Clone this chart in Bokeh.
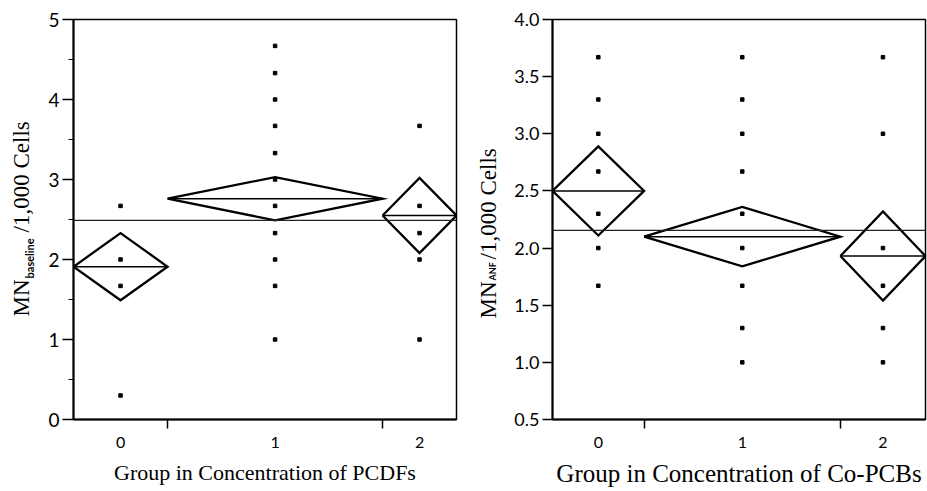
import numpy as np
from bokeh.plotting import figure
from bokeh.layouts import row
from bokeh.models import Range1d, FixedTicker, Span
from bokeh.core.properties import value
from bokeh.embed import file_html
from bokeh.resources import INLINE

# ---------------- data ----------------
groups = ["0", "1", "2"]

# Left panel: PCDFs
pcdf_n = [14, 32, 11]
pcdf_mean = [1.91, 2.76, 2.55]
pcdf_ci = [0.42, 0.27, 0.47]
pcdf_grand = 2.49
pcdf_pts_0 = [2.67, 2.0, 1.67, 0.3]
pcdf_pts_1 = [4.67, 4.33, 4.0, 3.67, 3.33, 3.0, 2.67, 2.33, 2.0, 1.67, 1.0]
pcdf_pts_2 = [3.67, 2.67, 2.33, 2.0, 1.0]
pcdf_yticks = [0, 1, 2, 3, 4, 5]
pcdf_ytick_labels = ["0", "1", "2", "3", "4", "5"]
pcdf_yminor = [0.5, 1.5, 2.5, 3.5, 4.5]

# Right panel: Co-PCBs
pcb_n = [14, 30, 13]
pcb_mean = [2.5, 2.1, 1.93]
pcb_ci = [0.39, 0.26, 0.39]
pcb_grand = 2.155
pcb_pts_0 = [3.67, 3.3, 3.0, 2.67, 2.3, 2.0, 1.67]
pcb_pts_1 = [3.67, 3.3, 3.0, 2.67, 2.3, 2.0, 1.67, 1.3, 1.0]
pcb_pts_2 = [3.67, 3.0, 2.0, 1.67, 1.3, 1.0]
pcb_yticks = [0.5, 1.0, 1.5, 2.0, 2.5, 3.0, 3.5, 4.0]
pcb_ytick_labels = ["0.5", "1.0", "1.5", "2.0", "2.5", "3.0", "3.5", "4.0"]

SERIF = "Liberation Serif"
SANS = "Lato"
H = 491
TOP = 19
BOTTOM = 72


def make_panel(n, means, ci, grand, pts, yr, yticks, ytick_labels, yminor,
               xlabel, width, mb_left, mb_right,
               ytick_size, xtick_size, xlabel_size, ytick_out):
    edges = np.concatenate([[0.0], np.cumsum(n)]).astype(float)
    centers = (edges[:-1] + edges[1:]) / 2.0

    p = figure(width=width, height=H, x_range=Range1d(0, edges[-1]),
               y_range=Range1d(*yr), output_backend="svg",
               toolbar_location=None, min_border_left=mb_left,
               min_border_right=mb_right, min_border_top=TOP,
               min_border_bottom=BOTTOM)
    p.grid.visible = False
    p.background_fill_color = "white"
    p.border_fill_color = "white"
    p.outline_line_color = "black"
    p.outline_line_width = 1.5
    p.outline_line_alpha = 1.0

    # grand mean line
    p.add_layout(Span(location=grand, dimension="width", line_color="#222222",
                      line_width=1.2))

    # means diamonds
    xs, ys = [], []
    for i in range(len(n)):
        m, c = means[i], ci[i]
        xs.append([edges[i], centers[i], edges[i + 1], centers[i], edges[i]])
        ys.append([m, m + c, m, m - c, m])
    p.multi_line(xs, ys, line_color="black", line_width=2.3, line_join="miter")
    p.segment(x0=edges[:-1], y0=means, x1=edges[1:], y1=means,
              line_color="black", line_width=1.5)

    # data points
    for i, vals in enumerate(pts):
        p.scatter(x=[centers[i]] * len(vals), y=vals, marker="square",
                  size=3.5, color="black")

    # x axis
    xa = p.xaxis[0]
    xa.ticker = FixedTicker(ticks=list(centers), minor_ticks=list(edges[1:-1]))
    xa.major_label_overrides = {float(c): g for c, g in zip(centers, groups)}
    xa.major_tick_out = 0
    xa.major_tick_in = 0
    xa.minor_tick_out = 9
    xa.minor_tick_in = 0
    xa.minor_tick_line_width = 1.5
    xa.axis_line_width = 2
    xa.major_label_text_font = SANS
    xa.major_label_text_font_size = f"{xtick_size}px"
    xa.major_label_text_color = "black"
    xa.major_label_standoff = 8
    xa.axis_label = xlabel
    xa.axis_label_text_font = SERIF
    xa.axis_label_text_font_style = "normal"
    xa.axis_label_text_font_size = f"{xlabel_size}px"
    xa.axis_label_text_color = "black"
    xa.axis_label_standoff = 9

    # y axis
    ya = p.yaxis[0]
    ya.ticker = FixedTicker(ticks=yticks, minor_ticks=yminor)
    ya.major_label_overrides = {float(t): l for t, l in zip(yticks, ytick_labels)}
    ya.major_tick_out = ytick_out
    ya.major_tick_in = 0
    ya.major_tick_line_width = 1.5
    ya.minor_tick_out = 5
    ya.minor_tick_in = 0
    ya.minor_tick_line_width = 1.2
    ya.axis_line_width = 2
    ya.major_label_text_font = SANS
    ya.major_label_text_font_size = f"{ytick_size}px"
    ya.major_label_text_color = "black"
    ya.major_label_standoff = 3
    return p


def label_strip(x0, x1, sub, x_base, y_start, main_size, sub_size, sub_drop,
                sub_len):
    """Narrow figure that carries the rotated y-axis title (page pixel coords)."""
    q = figure(width=x1 - x0, height=H, x_range=Range1d(x0, x1),
               y_range=Range1d(H - BOTTOM, TOP), output_backend="svg",
               toolbar_location=None, x_axis_type=None, y_axis_type=None,
               min_border_left=0, min_border_right=0, min_border_top=TOP,
               min_border_bottom=BOTTOM)
    q.outline_line_color = None
    q.background_fill_color = "white"
    q.border_fill_color = "white"
    ang = np.pi / 2
    mn_len = 1.611 * main_size
    y2 = y_start - mn_len - 1
    y3 = y2 - sub_len - 1
    q.text(x=[x_base], y=[y_start], text=["MN"], angle=ang,
           text_font=value(SERIF), text_font_size=f"{main_size}px",
           text_align="left", text_baseline="alphabetic", text_color="black")
    q.text(x=[x_base + sub_drop], y=[y2], text=[sub], angle=ang,
           text_font=value(SANS), text_font_style="bold",
           text_font_size=f"{sub_size}px", text_align="left",
           text_baseline="alphabetic", text_color="black")
    q.text(x=[x_base], y=[y3], text=["/1,000 Cells"], angle=ang,
           text_font=value(SERIF), text_font_size=f"{main_size}px",
           text_align="left", text_baseline="alphabetic", text_color="black")
    return q


lab1 = label_strip(0, 40, "baseline", x_base=21, y_start=316, main_size=23,
                   sub_size=11, sub_drop=8, sub_len=45)
p1 = make_panel(pcdf_n, pcdf_mean, pcdf_ci, pcdf_grand,
                [pcdf_pts_0, pcdf_pts_1, pcdf_pts_2], (0, 5), pcdf_yticks,
                pcdf_ytick_labels, pcdf_yminor,
                "Group in Concentration of PCDFs", width=428,
                mb_left=33, mb_right=12,
                ytick_size=19, xtick_size=16, xlabel_size=22, ytick_out=11)

lab2 = label_strip(468, 506, "ANF", x_base=488, y_start=318, main_size=23,
                   sub_size=9, sub_drop=4, sub_len=20)
p2 = make_panel(pcb_n, pcb_mean, pcb_ci, pcb_grand,
                [pcb_pts_0, pcb_pts_1, pcb_pts_2], (0.5, 4.0), pcb_yticks,
                pcb_ytick_labels, [],
                "Group in Concentration of Co-PCBs", width=421,
                mb_left=46, mb_right=2,
                ytick_size=18, xtick_size=16, xlabel_size=25, ytick_out=10)

layout = row(lab1, p1, lab2, p2)
open("out.html", "w").write(file_html(layout, INLINE))
